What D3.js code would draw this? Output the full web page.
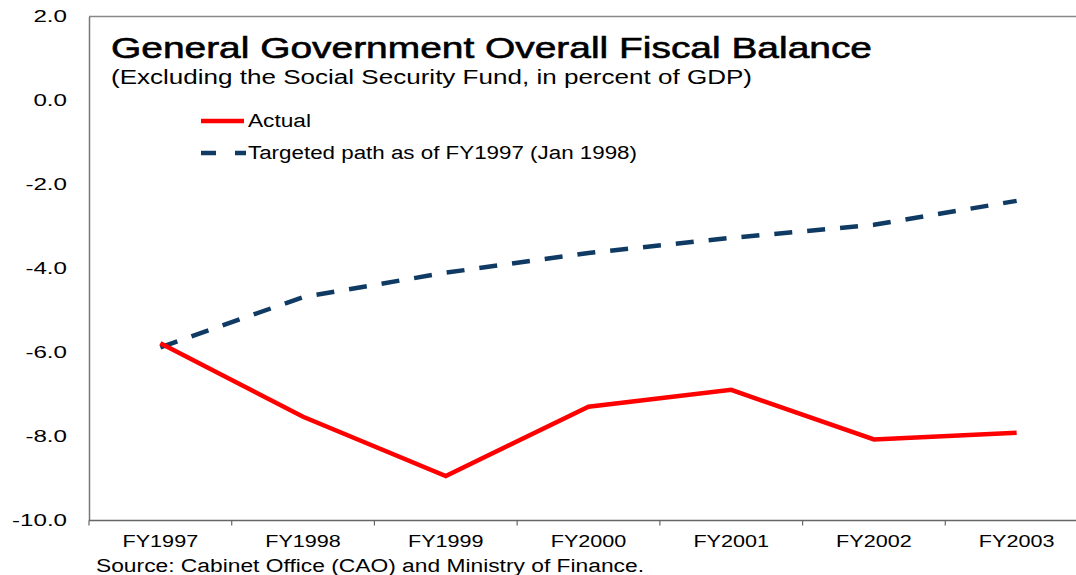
<!DOCTYPE html>
<html>
<head>
<meta charset="utf-8">
<script src="https://cdn.jsdelivr.net/npm/d3@7"></script>
<style>
  body { margin: 0; background: #fff; }
  text { font-family: "Liberation Sans", Arial, sans-serif; fill: #000; }
</style>
</head>
<body>
<div id="chart"></div>
<script>
// data
const years = ["FY1997", "FY1998", "FY1999", "FY2000", "FY2001", "FY2002", "FY2003"];
const actual = [-5.78, -7.53, -8.94, -7.29, -6.89, -8.07, -7.91];
const targeted = [-5.88, -4.68, -4.1, -3.63, -3.27, -2.96, -2.39];
const yTicks = [2, 0, -2, -4, -6, -8, -10];

const width = 1076, height = 575;
const margin = {top: 16.5, left: 89, bottom: 54.5};
const plotW = 999; // plot runs a little past the right edge, as in the picture

// the source picture is stretched sideways, so text is widened to match
function stretch(sel, k) {
  sel.each(function() {
    const len = this.getComputedTextLength();
    d3.select(this)
      .attr("textLength", len * k)
      .attr("lengthAdjust", "spacingAndGlyphs");
  });
}

const svg = d3.select("#chart")
  .append("svg")
  .attr("width", width)
  .attr("height", height);

// scales
const x = d3.scaleBand()
  .domain(years)
  .range([margin.left, margin.left + plotW]);

const y = d3.scaleLinear()
  .domain([-10, 2])
  .range([height - margin.bottom, margin.top]);

// top frame line
svg.append("line")
  .attr("x1", margin.left).attr("x2", width)
  .attr("y1", y(2)).attr("y2", y(2))
  .attr("stroke", "#888").attr("stroke-width", 1.5);

// Y axis (labels only, no ticks)
const yAxis = svg.append("g")
  .attr("transform", `translate(${margin.left},0)`)
  .call(d3.axisLeft(y).tickValues(yTicks).tickSize(0).tickPadding(22)
    .tickFormat(d => d.toFixed(1)));
yAxis.select(".domain").attr("stroke", "#777").attr("stroke-width", 1.5);
yAxis.selectAll("text")
  .style("font-family", "Liberation Sans, Arial, sans-serif")
  .style("font-size", "17px")
  .attr("fill", "#000")
  .call(stretch, 1.42);

// X axis with ticks on band edges
const xAxis = svg.append("g")
  .attr("transform", `translate(0,${y(-10)})`);
xAxis.append("line")
  .attr("x1", margin.left).attr("x2", width)
  .attr("stroke", "#666").attr("stroke-width", 1.5);
xAxis.selectAll("line.tick")
  .data(years)
  .join("line")
  .attr("class", "tick")
  .attr("x1", d => x(d)).attr("x2", d => x(d))
  .attr("y1", 0).attr("y2", 5)
  .attr("stroke", "#666").attr("stroke-width", 1.2);
xAxis.selectAll("text")
  .data(years)
  .join("text")
  .attr("x", d => x(d) + x.bandwidth() / 2)
  .attr("y", 26)
  .attr("text-anchor", "middle")
  .style("font-size", "17px")
  .text(d => d)
  .call(stretch, 1.27);

// lines
const line = d3.line()
  .x((d, i) => x(years[i]) + x.bandwidth() / 2)
  .y(d => y(d));

svg.append("path")
  .datum(targeted)
  .attr("d", line)
  .attr("fill", "none")
  .attr("stroke", "#0e3a63")
  .attr("stroke-width", 4.5)
  .attr("stroke-dasharray", "18,15");

svg.append("path")
  .datum(actual)
  .attr("d", line)
  .attr("fill", "none")
  .attr("stroke", "#ff0000")
  .attr("stroke-width", 4.5);

// title
svg.append("text")
  .attr("x", 111).attr("y", 58)
  .attr("textLength", 761)
  .attr("lengthAdjust", "spacingAndGlyphs")
  .style("font-size", "30px")
  .style("stroke", "#000").style("stroke-width", 0.6)
  .text("General Government Overall Fiscal Balance");

svg.append("text")
  .attr("x", 111).attr("y", 84)
  .attr("textLength", 641)
  .attr("lengthAdjust", "spacingAndGlyphs")
  .style("font-size", "20px")
  .text("(Excluding the Social Security Fund, in percent of GDP)");

// legend
const legend = svg.append("g");
legend.append("line")
  .attr("x1", 201).attr("x2", 244)
  .attr("y1", 121).attr("y2", 121)
  .attr("stroke", "#ff0000").attr("stroke-width", 4.5);
legend.append("text")
  .attr("x", 248).attr("y", 127)
  .attr("textLength", 63)
  .attr("lengthAdjust", "spacingAndGlyphs")
  .style("font-size", "18px")
  .text("Actual");
legend.append("line")
  .attr("x1", 201).attr("x2", 246)
  .attr("y1", 153).attr("y2", 153)
  .attr("stroke", "#0e3a63").attr("stroke-width", 4.5)
  .attr("stroke-dasharray", "15,19");
legend.append("text")
  .attr("x", 248).attr("y", 159)
  .attr("textLength", 389)
  .attr("lengthAdjust", "spacingAndGlyphs")
  .style("font-size", "18px")
  .text("Targeted path as of FY1997 (Jan 1998)");

// source note
svg.append("text")
  .attr("x", 96).attr("y", 572)
  .attr("textLength", 548)
  .attr("lengthAdjust", "spacingAndGlyphs")
  .style("font-size", "18px")
  .text("Source: Cabinet Office (CAO) and Ministry of Finance.");
</script>
</body>
</html>
